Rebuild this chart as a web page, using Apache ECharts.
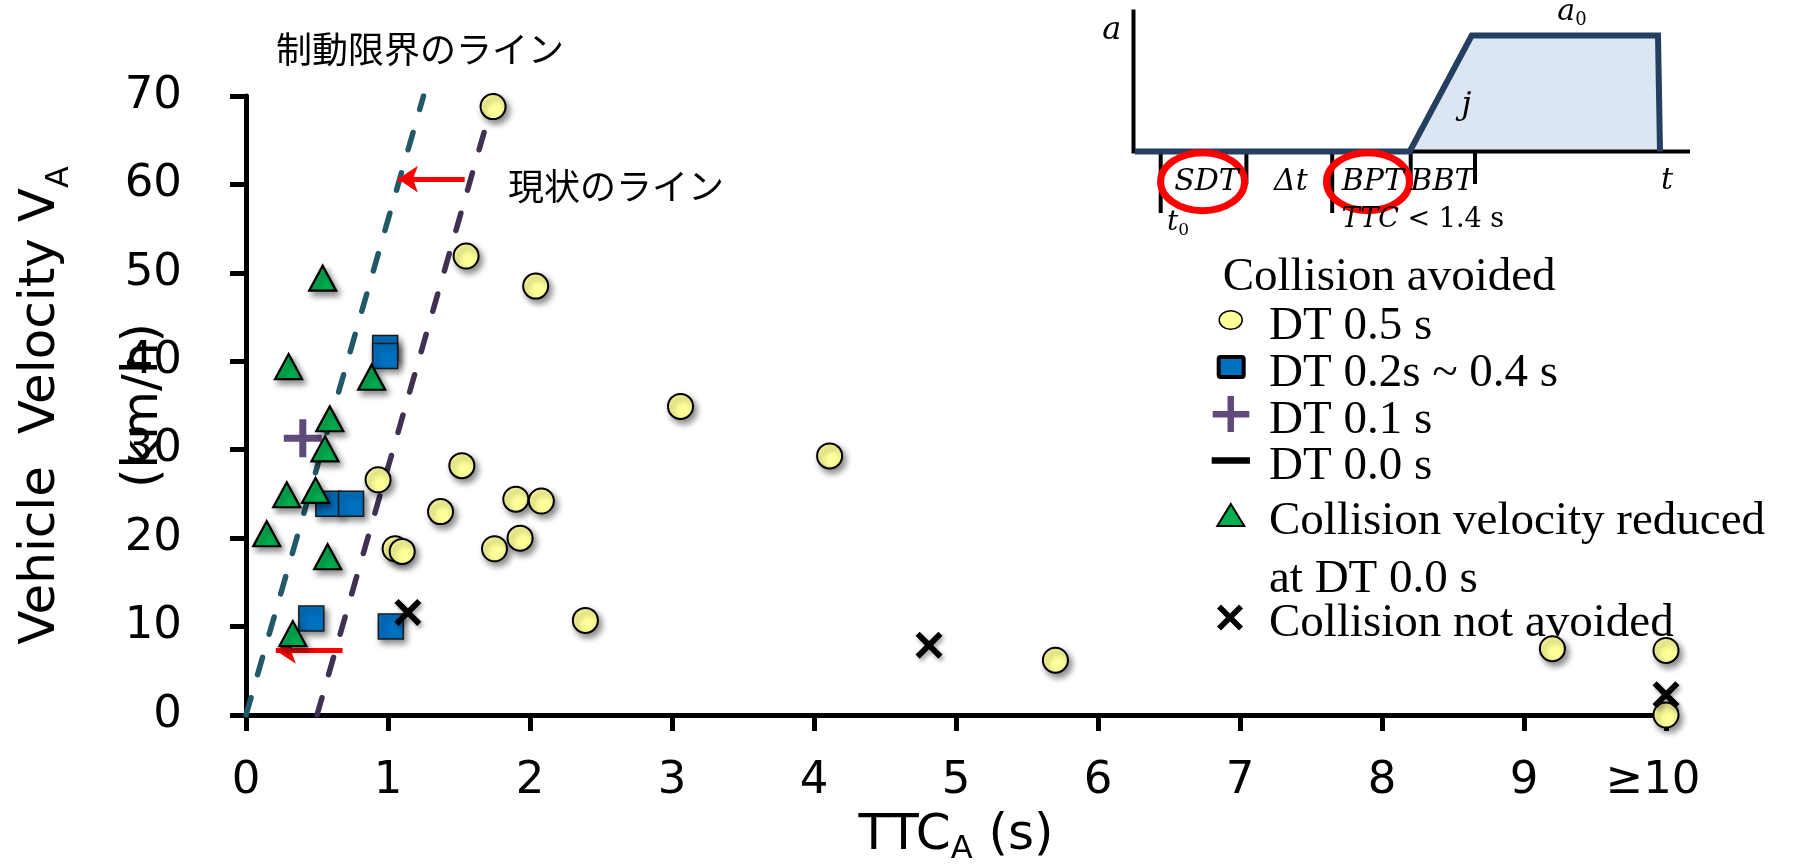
<!DOCTYPE html>
<html><head><meta charset="utf-8">
<script src="https://cdn.jsdelivr.net/npm/echarts@6/dist/echarts.min.js"></script>
<style>html,body{margin:0;padding:0;background:#fff}#c{width:1793px;height:865px}</style>
</head><body><div id="c"></div>
<script>
// ---------- data ----------
const xTicks = [0,1,2,3,4,5,6,7,8,9,10];
const xTickLabels = ['0','1','2','3','4','5','6','7','8','9','≥10'];
const yTicks = [0,10,20,30,40,50,60,70];

// [TTC_A (s), Vehicle velocity V_A (km/h)]
const dt05 = [[1.74,68.8],[1.55,51.9],[2.04,48.5],[3.06,34.9],[4.11,29.3],[0.93,26.6],[1.52,28.2],[1.37,23.0],[1.90,24.4],[2.08,24.2],[1.05,18.8],[1.10,18.5],[1.75,18.8],[1.93,20.0],[2.39,10.7],[5.70,6.2],[9.20,7.5],[10.0,7.3],[10.0,0]];
const dt02to04 = [[0.98,41.5],[0.98,40.6],[0.58,23.9],[0.74,23.9],[0.46,10.9],[1.02,10.0]];
const dt01 = [[0.40,31.3]];
const dt00 = [];
const velocityReduced = [[0.54,49.4],[0.30,39.4],[0.885,38.2],[0.59,33.5],[0.556,30.1],[0.287,24.9],[0.49,25.4],[0.146,20.5],[0.575,17.9],[0.33,9.2]];
const notAvoided = [[1.14,11.6],[4.81,7.9],[10.0,2.3]];

const brakingLimitLine = [[0,0],[1.25,70]];   // 制動限界のライン
const currentLine = [[0.5,0],[1.75,70]];      // 現状のライン
const arrowUpper = [[1.54,60.6],[1.07,60.6]];
const arrowLower = [[0.68,7.3],[0.21,7.3]];

// ---------- styles ----------
const SHADOW = {shadowBlur:6, shadowColor:'rgba(0,0,0,0.45)', shadowOffsetX:3, shadowOffsetY:4};
const PLUS = 'path://M-3.5,-19L3.5,-19L3.5,-3.5L19,-3.5L19,3.5L3.5,3.5L3.5,19L-3.5,19L-3.5,3.5L-19,3.5L-19,-3.5L-3.5,-3.5Z';
const CROSS = 'path://M0,4L4,0L13,9L22,0L26,4L17,13L26,22L22,26L13,17L4,26L0,22L9,13Z';
const DASH = 'path://M0,0L38,0L38,6L0,6Z';
const AX = 'DejaVu Sans';
const SERIF = 'Liberation Serif';

function T(x, y, text, size, extra) {
  return Object.assign({type:'text', z:100, style:Object.assign({
    text:text, x:x, y:y, fontSize:size, fontFamily:SERIF, fill:'#000',
    align:'left', verticalAlign:'middle'
  }, extra || {})});
}

const graphics = [];
// Japanese annotations
graphics.push(T(276, 49, '制動限界のライン', 36, {fontFamily:'Noto Sans CJK JP'}));
graphics.push(T(508, 186, '現状のライン', 36, {fontFamily:'Noto Sans CJK JP'}));

// ---------- legend (drawn) ----------
const LX = 1269;
graphics.push(T(1222.7, 278, 'Collision avoided', 47));
graphics.push(T(LX, 327, 'DT 0.5 s', 47));
graphics.push(T(LX, 374, 'DT 0.2s ~ 0.4 s', 47));
graphics.push(T(LX, 421, 'DT 0.1 s', 47));
graphics.push(T(LX, 467, 'DT 0.0 s', 47));
graphics.push(T(LX, 522, 'Collision velocity reduced', 47));
graphics.push(T(LX, 580, 'at DT 0.0 s', 47));
graphics.push(T(LX, 624, 'Collision not avoided', 47));
graphics.push({type:'ellipse', z:100, shape:{cx:1230.7, cy:320, rx:11.5, ry:9.3}, style:{fill:'#ffff99', stroke:'#000', lineWidth:1.5}});
graphics.push({type:'rect', z:100, shape:{x:1218.7, y:357, width:25, height:20, r:2}, style:{fill:'#0070c0', stroke:'#000', lineWidth:4}});
graphics.push({type:'polygon', z:100, shape:{points:[[1227.5,396],[1234,396],[1234,411],[1249.3,411],[1249.3,417.5],[1234,417.5],[1234,432],[1227.5,432],[1227.5,417.5],[1212.7,417.5],[1212.7,411],[1227.5,411]]}, style:{fill:'#604a7b'}});
graphics.push({type:'rect', z:100, shape:{x:1211.7, y:457.3, width:38.3, height:6.5}, style:{fill:'#000'}});
graphics.push({type:'polygon', z:100, shape:{points:[[1230.8,504],[1244.3,526],[1217.3,526]]}, style:{fill:'#00b050', stroke:'#000', lineWidth:2}});
graphics.push({type:'polygon', z:100, shape:{points:[[1217,608.5],[1221,604.5],[1230,613.5],[1239,604.5],[1243,608.5],[1234,617.5],[1243,626.5],[1239,630.5],[1230,621.5],[1221,630.5],[1217,626.5],[1226,617.5]]}, style:{fill:'#000'}});

// ---------- inset diagram (schematic) ----------
const BY = 151.5;
graphics.push({type:'polygon', z:90, shape:{points:[[1409.7,BY],[1471.7,35.5],[1658,35.5],[1660,BY]]}, style:{fill:'#dce6f2'}});
graphics.push({type:'polyline', z:91, shape:{points:[[1133.5,9.6],[1133.5,BY],[1690,BY]]}, style:{stroke:'#000', lineWidth:4, fill:null}});
graphics.push({type:'polyline', z:92, shape:{points:[[1135,BY],[1409.7,BY],[1471.7,35.5],[1658,35.5],[1660,BY]]}, style:{stroke:'#243f60', lineWidth:6, fill:null, lineJoin:'miter'}});
[[1160.7,213],[1246.4,184],[1332.2,213],[1410.7,184],[1475,184]].forEach(function(t){
  graphics.push({type:'line', z:91, shape:{x1:t[0], y1:BY, x2:t[0], y2:t[1]}, style:{stroke:'#000', lineWidth:4}});
});
const IT = {fontFamily:'DejaVu Serif', fontStyle:'italic', align:'center'};
graphics.push(T(1111.8, 31, 'a', 32, IT));
graphics.push(T(1572, 12, 'a', 30, Object.assign({}, IT, {text:'{i|a}{s|0}', rich:{i:{fontSize:30, fontFamily:'DejaVu Serif', fontStyle:'italic'}, s:{fontSize:18, fontFamily:'DejaVu Serif', padding:[16,0,0,0]}}})));
graphics.push(T(1466.5, 106, 'j', 32, IT));
graphics.push(T(1206.5, 182.5, 'SDT', 30, IT));
graphics.push(T(1290.9, 182.5, 'Δt', 30, IT));
graphics.push(T(1372.9, 182.5, 'BPT', 30, IT));
graphics.push(T(1442.4, 182.5, 'BBT', 30, IT));
graphics.push(T(1667, 181, 't', 30, IT));
graphics.push(T(1178, 223, 't', 28, Object.assign({}, IT, {text:'{i|t}{s|0}', rich:{i:{fontSize:28, fontFamily:'DejaVu Serif', fontStyle:'italic'}, s:{fontSize:17, fontFamily:'DejaVu Serif', padding:[16,0,0,0]}}})));
graphics.push(T(1423, 220, 'TTC < 1.4 s', 27, Object.assign({}, IT, {text:'{i|TTC} < 1.4 s', fontStyle:'normal', rich:{i:{fontSize:27, fontFamily:'DejaVu Serif', fontStyle:'italic'}}})));
graphics.push({type:'ellipse', z:95, shape:{cx:1202.6, cy:181.7, rx:42, ry:29}, style:{fill:null, stroke:'#ff0000', lineWidth:7}});
graphics.push({type:'ellipse', z:95, shape:{cx:1368, cy:181.7, rx:41.5, ry:29}, style:{fill:null, stroke:'#ff0000', lineWidth:7}});

const chart = echarts.init(document.getElementById('c'), null, {renderer:'canvas'});
const option = {
  animation:false,
  backgroundColor:'#ffffff',
  grid:{left:246, right:127, top:96, bottom:150, containLabel:false, outerBoundsMode:'none'},
  xAxis:{
    type:'value', min:xTicks[0], max:xTicks[xTicks.length-1], interval:1,
    name:'{t|TTC}{s|A}{t| (s)}', nameLocation:'middle', nameGap:83, nameMoveOverlap:false,
    nameTextStyle:{rich:{t:{fontSize:50, fontFamily:AX, color:'#000', lineHeight:76}, s:{fontSize:32, fontFamily:AX, color:'#000', lineHeight:36, padding:[28,0,0,0]}}},
    axisLine:{show:true, onZero:false, lineStyle:{color:'#000', width:5}},
    axisTick:{show:true, inside:false, length:16, lineStyle:{color:'#000', width:5}},
    axisLabel:{margin:44, fontSize:45, fontFamily:AX, color:'#000', showMaxLabel:true, showMinLabel:true,
      formatter:function(v){ const i = xTicks.indexOf(Math.round(v)); if (i < 0) return ''; return i === xTicks.length-1 ? '{e|' + xTickLabels[i] + '}' : xTickLabels[i]; },
      rich:{e:{fontSize:45, fontFamily:AX, color:'#000', padding:[0,26,8,0]}}},
    splitLine:{show:false}
  },
  yAxis:{
    type:'value', min:yTicks[0], max:yTicks[yTicks.length-1], interval:10,
    name:'{t|Vehicle  Velocity V}{s|A}\n{t|(km/h)}', nameLocation:'middle', nameRotate:90, nameGap:50, nameMoveOverlap:false,
    nameTextStyle:{lineHeight:103, rich:{t:{fontSize:50, fontFamily:AX, color:'#000', lineHeight:103}, s:{fontSize:32, fontFamily:AX, color:'#000', lineHeight:36, padding:[36,0,0,0]}}},
    axisLine:{show:true, onZero:false, lineStyle:{color:'#000', width:5}},
    axisTick:{show:true, inside:false, length:16, lineStyle:{color:'#000', width:5}},
    axisLabel:{margin:64, fontSize:45, fontFamily:AX, color:'#000'},
    splitLine:{show:false}
  },
  series:[
    {name:'制動限界のライン', type:'line', data:brakingLimitLine, symbol:'none', silent:true, z:1,
      lineStyle:{color:'#215968', width:5.5, type:[18,24], cap:'round'}},
    {name:'現状のライン', type:'line', data:currentLine, symbol:'none', silent:true, z:1,
      lineStyle:{color:'#403152', width:5.5, type:[18,24], cap:'round'}},
    {name:'arrows', type:'line', data:[], silent:true, z:3,
      markLine:{silent:true, symbol:['none','arrow'], symbolSize:20, label:{show:false}, animation:false,
        lineStyle:{color:'#ff0000', width:5, type:'solid', opacity:1},
        data:[[{coord:arrowUpper[0]},{coord:arrowUpper[1]}],[{coord:arrowLower[0]},{coord:arrowLower[1]}]]}},
    {name:'DT 0.2s ~ 0.4 s', type:'scatter', data:dt02to04, symbol:'rect', symbolSize:25, clip:false, z:4,
      itemStyle:Object.assign({color:'#0070c0', borderColor:'#1a1a1a', borderWidth:1.5, opacity:1}, SHADOW)},
    {name:'DT 0.1 s', type:'scatter', data:dt01, symbol:PLUS, symbolSize:38, clip:false, z:5,
      itemStyle:{color:'#604a7b', opacity:1}},
    {name:'DT 0.0 s', type:'scatter', data:dt00, symbol:DASH, symbolSize:[38,6], clip:false, z:5,
      itemStyle:{color:'#000', opacity:1}},
    {name:'Collision velocity reduced at DT 0.0 s', type:'scatter', data:velocityReduced, symbol:'triangle', symbolSize:[27,25], clip:false, z:6,
      itemStyle:Object.assign({color:'#00b050', borderColor:'#000', borderWidth:2.2, opacity:1}, SHADOW)},
    {name:'DT 0.5 s', type:'scatter', data:dt05, symbol:'circle', symbolSize:25, clip:false, z:7,
      itemStyle:Object.assign({color:'#ffff99', borderColor:'#000', borderWidth:2, opacity:1}, SHADOW)},
    {name:'Collision not avoided', type:'scatter', data:notAvoided, symbol:CROSS, symbolSize:27, clip:false, z:8,
      itemStyle:Object.assign({color:'#000', opacity:1}, SHADOW, {shadowBlur:4, shadowOffsetX:2, shadowOffsetY:3, shadowColor:'rgba(0,0,0,0.35)'})}
  ],
  graphic:graphics
};
chart.setOption(option);
</script>
</body></html>
